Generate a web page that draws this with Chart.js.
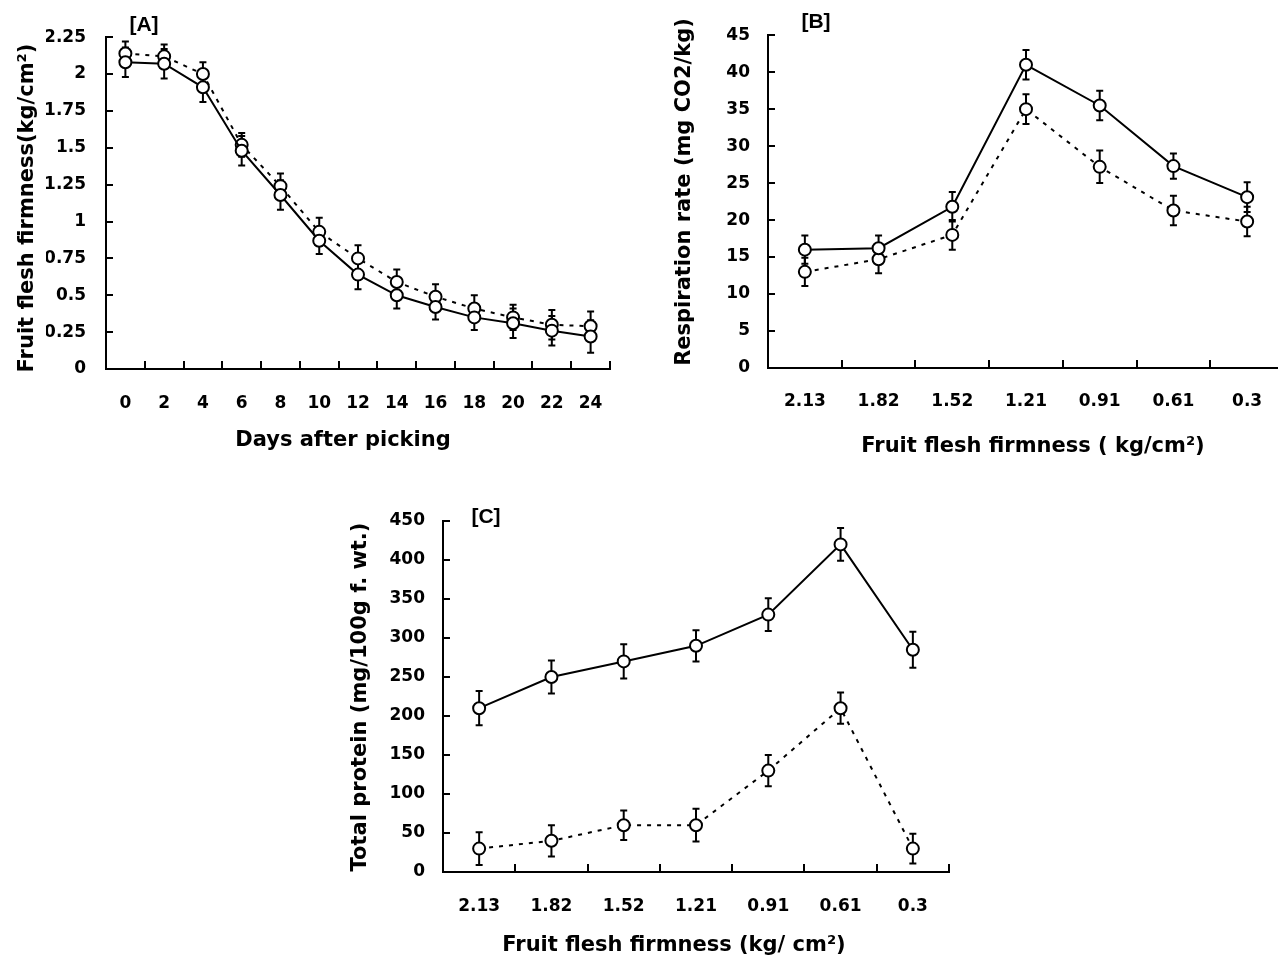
<!DOCTYPE html>
<html><head><meta charset="utf-8">
<script src="https://cdn.jsdelivr.net/npm/chart.js@4"></script>
<style>
html,body{margin:0;padding:0;background:#fff;overflow:hidden;width:1278px;height:956px;}
canvas{position:absolute;}
</style></head><body>
<canvas id="cA" width="640" height="470" style="left:0;top:0"></canvas>
<canvas id="cB" width="660" height="470" style="left:640px;top:0"></canvas>
<canvas id="cC" width="640" height="476" style="left:340px;top:480px"></canvas>
<script>
// ---- Data ----
const daysLabels = ['0','2','4','6','8','10','12','14','16','18','20','22','24'];
const firmSolid  = [2.08,2.07,1.91,1.48,1.18,0.87,0.64,0.50,0.42,0.35,0.31,0.26,0.22];
const firmDashed = [2.14,2.12,2.00,1.52,1.24,0.93,0.75,0.59,0.49,0.41,0.35,0.30,0.29];
const firmErrSolid  = [0.10,0.10,0.10,0.10,0.10,0.09,0.10,0.09,0.085,0.085,0.10,0.10,0.11];
const firmErrDashed = [0.08,0.08,0.08,0.08,0.085,0.095,0.09,0.085,0.085,0.09,0.085,0.10,0.10];
const firmTicks = [0,0.25,0.5,0.75,1,1.25,1.5,1.75,2,2.25];

const firmnessLabels = ['2.13','1.82','1.52','1.21','0.91','0.61','0.3'];
const respSolid  = [16,16.2,21.8,41,35.5,27.3,23.1];
const respDashed = [13,14.7,18,35,27.2,21.3,19.8];
const respErrSolid  = [1.9,1.7,2.0,2.0,2.0,1.7,2.0];
const respErrDashed = [1.9,1.9,2.0,2.0,2.2,2.0,2.0];
const respTicks = [0,5,10,15,20,25,30,35,40,45];

const protSolid  = [210,250,270,290,330,420,285];
const protDashed = [30,40,60,60,130,210,30];
const protErrSolid  = [22,21,22,20,21,21,23];
const protErrDashed = [21,20,19,21,20,20,19];
const protTicks = [0,50,100,150,200,250,300,350,400,450];

// ---- Plugins ----
const errorBarPlugin = {
  id: 'errorBars',
  beforeDatasetsDraw(chart, args, opts) {
    const ctx = chart.ctx, ys = chart.scales.y;
    ctx.save();
    ctx.strokeStyle = '#000';
    ctx.lineWidth = opts.width || 2;
    chart.data.datasets.forEach((ds, i) => {
      if (!ds.errors) return;
      const meta = chart.getDatasetMeta(i);
      meta.data.forEach((pt, j) => {
        const v = ds.data[j], e = ds.errors[j];
        const yt = ys.getPixelForValue(v + e), yb = ys.getPixelForValue(v - e);
        const x = pt.x, c = opts.cap || 3.5;
        ctx.beginPath();
        ctx.moveTo(x, yt); ctx.lineTo(x, yb);
        ctx.moveTo(x - c, yt); ctx.lineTo(x + c, yt);
        ctx.moveTo(x - c, yb); ctx.lineTo(x + c, yb);
        ctx.stroke();
      });
    });
    ctx.restore();
  }
};
const textPlugin = {
  id: 'panelText',
  afterDraw(chart, args, opts) {
    const ctx = chart.ctx;
    (opts.items || []).forEach(it => {
      ctx.save();
      ctx.fillStyle = '#000';
      ctx.font = it.font;
      ctx.textAlign = 'center';
      ctx.textBaseline = 'middle';
      ctx.translate(it.x, it.y);
      if (it.rot) ctx.rotate(it.rot);
      ctx.fillText(it.text, 0, 0);
      ctx.restore();
    });
  }
};

const tickFont = {family: '"DejaVu Sans", sans-serif', size: 17, weight: 'bold'};
const titleFont = 'bold 21px "DejaVu Sans", sans-serif';
const tagFont = 'bold 21px "Liberation Sans", Arial, sans-serif';

function makeChart(id, labels, solid, dashed, errS, errD, yTicks, lay, texts) {
  return new Chart(document.getElementById(id), {
    type: 'line',
    data: {
      labels: labels,
      datasets: [
        {data: solid, errors: errS, borderColor: '#000', borderWidth: 2, pointRadius: 6,
         pointBorderWidth: 2, pointBackgroundColor: '#fff', pointBorderColor: '#000',
         tension: 0, fill: false, order: 0},
        {data: dashed, errors: errD, borderColor: '#000', borderWidth: 2, borderDash: [4, 6],
         pointRadius: 6, pointBorderWidth: 2, pointBackgroundColor: '#fff', pointBorderColor: '#000',
         tension: 0, fill: false, order: 1}
      ]
    },
    options: {
      responsive: false,
      animation: false,
      layout: {padding: lay.padding},
      plugins: {
        legend: {display: false}, title: {display: false}, tooltip: {enabled: false},
        errorBars: {cap: 3.5, width: 2},
        panelText: {items: texts}
      },
      scales: {
        x: {
          type: 'category', offset: true,
          grid: {offset: true, drawOnChartArea: false, drawTicks: true, tickLength: -8, color: '#000', lineWidth: 2},
          border: {display: true, color: '#000', width: 2},
          ticks: {autoSkip: false, maxRotation: 0, minRotation: 0, padding: lay.xPad, font: tickFont, color: '#000'},
          afterFit(s) { s.height = 50; }
        },
        y: {
          min: yTicks[0], max: yTicks[yTicks.length - 1],
          afterBuildTicks(s) { s.ticks = yTicks.map(v => ({value: v})); },
          grid: {drawOnChartArea: false, drawTicks: true, tickLength: -7, color: '#000', lineWidth: 2},
          border: {display: true, color: '#000', width: 2},
          ticks: {padding: lay.yPad, font: tickFont, color: '#000', callback: v => String(v)},
          afterFit(s) { s.width = 60; }
        }
      }
    },
    plugins: [errorBarPlugin, textPlugin]
  });
}

makeChart('cA', daysLabels, firmSolid, firmDashed, firmErrSolid, firmErrDashed, firmTicks,
  {padding: {left: 46, top: 37, right: 30, bottom: 51}, xPad: 32, yPad: 27},
  [
    {text: 'Days after picking', x: 343, y: 441, font: titleFont},
    {text: 'Fruit flesh firmness(kg/cm²)', x: 28, y: 208, rot: -Math.PI / 2, font: titleFont},
    {text: '[A]', x: 144, y: 25, font: tagFont}
  ]);

makeChart('cB', firmnessLabels, respSolid, respDashed, respErrSolid, respErrDashed, respTicks,
  {padding: {left: 68, top: 22, right: 16, bottom: 52}, xPad: 31, yPad: 25},
  [
    {text: 'Fruit flesh firmness ( kg/cm²)', x: 393, y: 447, font: titleFont},
    {text: 'Respiration rate (mg CO2/kg)', x: 45, y: 192, rot: -Math.PI / 2, font: titleFont},
    {text: '[B]', x: 176, y: 22, font: tagFont}
  ]);

makeChart('cC', firmnessLabels, protSolid, protDashed, protErrSolid, protErrDashed, protTicks,
  {padding: {left: 43, top: 41, right: 31, bottom: 34}, xPad: 32, yPad: 25},
  [
    {text: 'Fruit flesh firmness (kg/ cm²)', x: 334, y: 466, font: titleFont},
    {text: 'Total protein (mg/100g f. wt.)', x: 21, y: 217, rot: -Math.PI / 2, font: titleFont},
    {text: '[C]', x: 146, y: 37, font: tagFont}
  ]);
</script>
</body></html>
